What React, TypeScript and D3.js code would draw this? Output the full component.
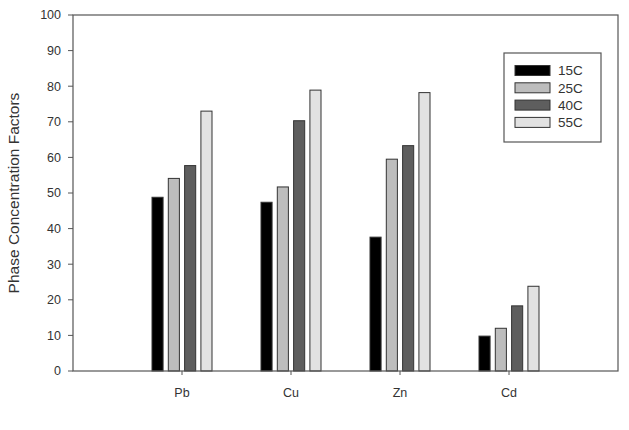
import React from "react";
import * as d3 from "d3";

const categories = ["Pb", "Cu", "Zn", "Cd"];
const seriesNames = ["15C", "25C", "40C", "55C"];
const values15C = [48.8, 47.4, 37.6, 9.8];
const values25C = [54.1, 51.7, 59.5, 12.0];
const values40C = [57.7, 70.3, 63.3, 18.3];
const values55C = [73.0, 78.9, 78.2, 23.8];
const yTicks = [0, 10, 20, 30, 40, 50, 60, 70, 80, 90, 100];
const colors = ["#000000", "#bdbdbd", "#5e5e5e", "#e2e2e2"];

const W = 629;
const H = 430;
const L = 73;
const R = 618;
const T = 15;
const B = 371;

export default function App() {
  const series = [values15C, values25C, values40C, values55C];
  const x = d3.scalePoint<string>().domain(categories).range([L, R]).padding(1);
  const y = d3.scaleLinear().domain([0, 100]).range([B, T]);
  const inner = d3.scaleBand<string>().domain(seriesNames).range([-30, 30]).paddingInner(0.32).paddingOuter(0);
  const font = "'Liberation Sans', Arial, sans-serif";
  const axisCol = "#555";
  const textCol = "#333";

  return (
    <svg width={W} height={H} style={{ position: "absolute", left: 0, top: 0 }} fontFamily={font}>
      <rect x={0} y={0} width={W} height={H} fill="#fff" />
      {/* bars */}
      {categories.map((c, ci) => (
        <g key={c}>
          {seriesNames.map((s, si) => {
            const v = series[si][ci];
            const bx = (x(c) as number) + (inner(s) as number);
            return (
              <rect
                key={s}
                x={bx}
                y={y(v)}
                width={inner.bandwidth()}
                height={B - y(v)}
                fill={colors[si]}
                stroke="#333"
                strokeWidth={1}
              />
            );
          })}
        </g>
      ))}
      {/* frame */}
      <rect x={L} y={T} width={R - L} height={B - T} fill="none" stroke={axisCol} strokeWidth={1.2} />
      {/* y ticks */}
      {yTicks.map((t) => (
        <g key={t}>
          <line x1={L - 5} x2={L} y1={y(t)} y2={y(t)} stroke={axisCol} strokeWidth={1} />
          <text x={L - 12} y={y(t)} dy="0.35em" textAnchor="end" fontSize={12.5} fill={textCol}>
            {t}
          </text>
        </g>
      ))}
      {/* x ticks */}
      {categories.map((c) => (
        <g key={c}>
          <line x1={x(c)} x2={x(c)} y1={B} y2={B + 4} stroke={axisCol} strokeWidth={1} />
          <text x={x(c)} y={B + 26} textAnchor="middle" fontSize={12.5} fill={textCol}>
            {c}
          </text>
        </g>
      ))}
      {/* y label */}
      <text
        transform={`translate(14, ${(T + B) / 2}) rotate(-90)`}
        textAnchor="middle"
        dy="0.35em"
        fontSize={15.5}
        fill={textCol}
      >
        Phase Concentration Factors
      </text>
      {/* legend */}
      <rect x={504} y={53} width={97} height={89} fill="#fff" stroke={axisCol} strokeWidth={1.2} />
      {seriesNames.map((s, si) => {
        const cy = 70.5 + si * 17.3;
        return (
          <g key={s}>
            <rect x={515} y={cy - 5} width={35} height={10} fill={colors[si]} stroke="#333" strokeWidth={1} />
            <text x={558} y={cy} dy="0.35em" fontSize={13.5} fill={textCol}>
              {s}
            </text>
          </g>
        );
      })}
    </svg>
  );
}
